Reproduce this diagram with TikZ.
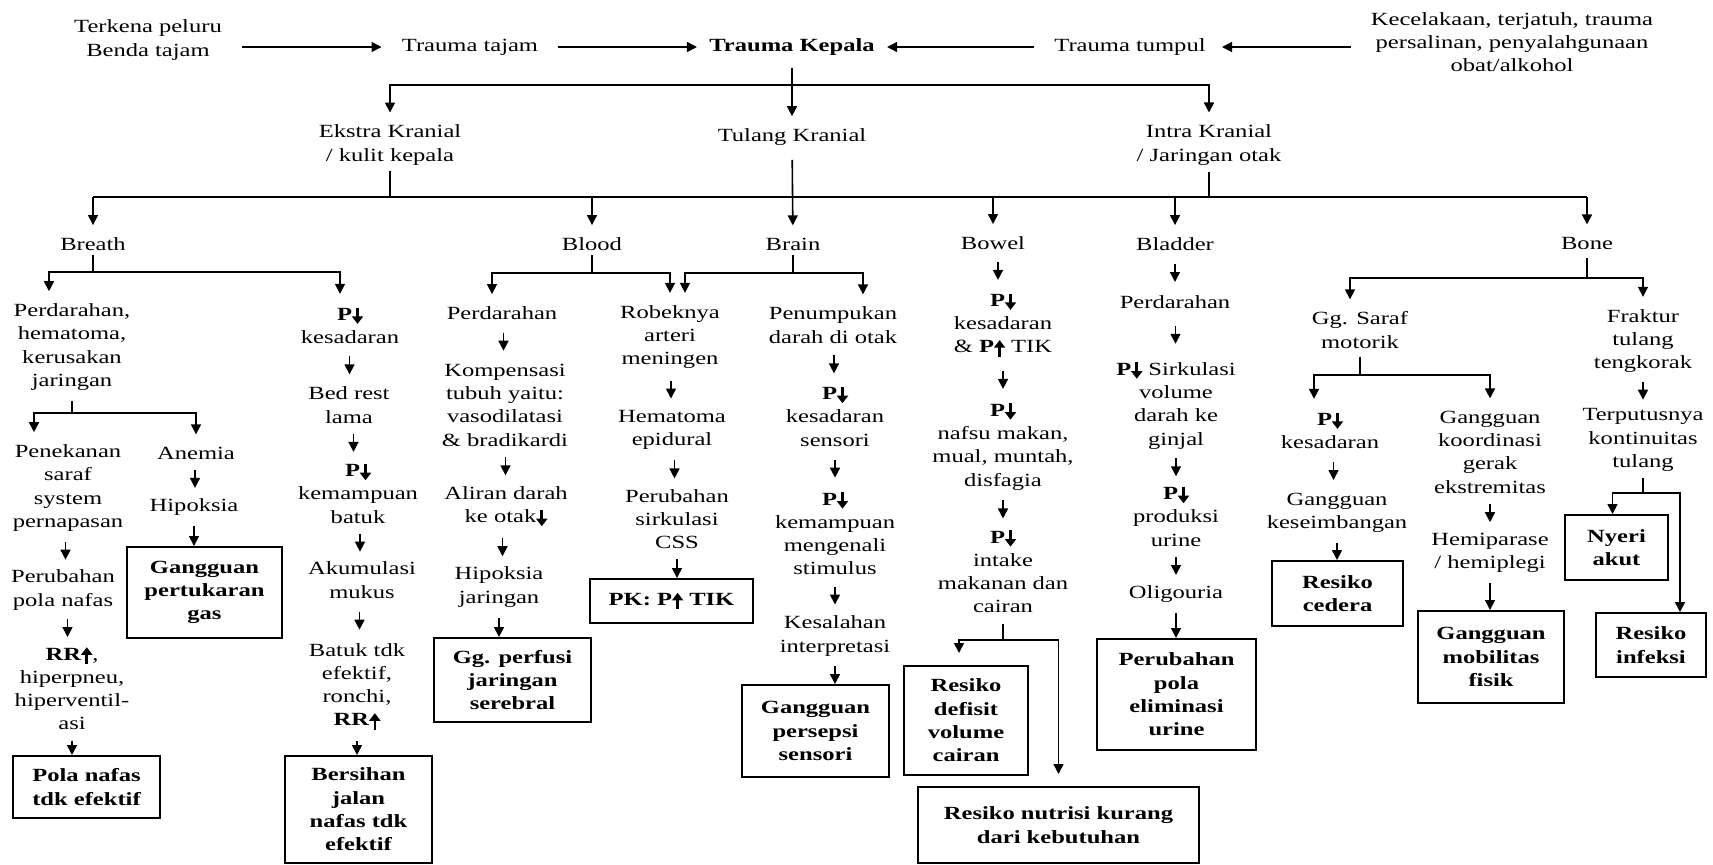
\documentclass[tikz,border=0pt]{standalone}
\usepackage{fontspec}
\setmainfont{Liberation Serif}[FakeStretch=1.32]
\usepackage{tikz}
\usetikzlibrary{arrows.meta,calc}

% thick arrows used inside the labels (P turun / P naik)
\newcommand{\arrdn}{\tikz[baseline=0pt,x=1pt,y=1pt]\draw[line width=1.3pt,-{Triangle[length=3.8pt,width=5.5pt]}] (0,6.4)--(0,-1.8);}
\newcommand{\arrup}{\tikz[baseline=0pt,x=1pt,y=1pt]\draw[line width=1.3pt,-{Triangle[length=3.8pt,width=5.5pt]}] (0,-1.8)--(0,6.4);}
\newcommand{\Pdn}{\textbf{P}\arrdn}
\newcommand{\Pup}{\textbf{P}\arrup}
\newcommand{\txtsize}{\fontsize{9.3}{11.65}\selectfont}

\begin{document}
\begin{tikzpicture}[
  x=0.5pt, y=-0.5pt,
  font=\txtsize,
  txt/.style={align=center, inner sep=0pt},
  box/.style={draw, line width=1pt, align=center, inner sep=0pt, font=\txtsize\bfseries},
  conn/.style={line width=0.8pt},
  arr/.style={conn, -{Triangle[length=5pt,width=5pt]}},
  branch/.style={arr, shorten >=6pt},
  stub/.style={to path={($(\tikztostart.south)!0.5!(\tikztotarget.north)+(0,4.5pt)$) -- ($(\tikztostart.south)!0.5!(\tikztotarget.north)+(0,-4.5pt)$)}}
]
\useasboundingbox (0,0) rectangle (1713,864);

% --- Penyebab -> Trauma Kepala ---
\node[txt] (terkena) at (148,40) {Terkena peluru\\Benda tajam};
\node[txt] (tajam) at (470,47) {Trauma tajam};
\node[txt, font=\txtsize\bfseries] (kepala) at (792,47) {Trauma Kepala};
\node[txt] (tumpul) at (1130,47) {Trauma tumpul};
\node[txt] (sebab) at (1512,42) {Kecelakaan, terjatuh, trauma\\persalinan, penyalahgunaan\\obat/alkohol};

\draw[arr, shorten <=10pt, shorten >=10pt] (terkena.east |- tajam) -- (tajam);
\draw[arr, shorten <=10pt, shorten >=6pt] (tajam) -- (kepala);
\draw[arr, shorten <=10pt, shorten >=6pt] (tumpul) -- (kepala);
\draw[arr, shorten <=10pt, shorten >=8pt] (sebab.west |- tumpul) -- (tumpul);

% --- Ekstra / Tulang / Intra Kranial ---
\node[txt] (ekstra) at (390,145) {Ekstra Kranial\\/ kulit kepala};
\node[txt] (tulang) at (792,137) {Tulang Kranial};
\node[txt] (intra) at (1209,145) {Intra Kranial\\/ Jaringan otak};

\coordinate (jK) at (792,85);
\draw[conn, shorten <=6pt] (kepala) -- (jK);
\draw[branch] (jK) -| (ekstra);
\draw[branch] (jK) -- (tulang);
\draw[branch] (jK) -| (intra);

% --- 6B ---
\node[txt] (breath) at (93,244) {Breath};
\node[txt] (blood) at (592,244) {Blood};
\node[txt] (brain) at (793,244) {Brain};
\node[txt] (bowel) at (993,243) {Bowel};
\node[txt] (bladder) at (1175,244) {Bladder};
\node[txt] (bone) at (1587,243) {Bone};

\coordinate (jT) at (792,197);
\draw[conn, shorten <=3pt] (ekstra) -- (ekstra |- jT);
\draw[conn, shorten <=3pt] (intra) -- (intra |- jT);
\draw[conn] (breath |- jT) -- (bone |- jT);
\foreach \n in {breath,blood,bowel,bladder,bone}
  \draw[branch] (\n |- jT) -- (\n);
\draw[branch, shorten <=7pt] (tulang) -- (brain);

% --- Breath ---
\node[txt] (perdA) at (72,347) {Perdarahan,\\hematoma,\\kerusakan\\jaringan};
\node[txt] (penekanan) at (68,488) {Penekanan\\saraf\\system\\pernapasan};
\node[txt] (anemia) at (196,453) {Anemia};
\node[txt] (hipA) at (194,507) {Hipoksia};
\node[box, minimum width=77.5pt, minimum height=45.5pt] (gas) at (204.5,592.5) {Gangguan\\pertukaran\\gas};
\node[txt] (polaA) at (63,590) {Perubahan\\pola nafas};
\node[txt] (rr) at (72,688) {\textbf{RR}\arrup,\\hiperpneu,\\hiperventil-\\asi};
\node[box, minimum width=73.5pt, minimum height=31pt] (polaBox) at (86.5,787) {Pola nafas\\tdk efektif};
\node[txt] (kesA) at (350,325) {\Pdn\\kesadaran};
\node[txt] (bedrest) at (349,405) {Bed rest\\lama};
\node[txt] (batukA) at (358,493) {\Pdn\\kemampuan\\batuk};
\node[txt] (mukus) at (362,580) {Akumulasi\\mukus};
\node[txt] (batukB) at (357,687) {Batuk tdk\\efektif,\\ronchi,\\\textbf{RR}\arrup};
\node[box, minimum width=73.5pt, minimum height=53.5pt] (bersihan) at (358.5,809.5) {Bersihan\\jalan\\nafas tdk\\efektif};

\coordinate (jBr) at (93,272);
\draw[conn, shorten <=2pt] (breath) -- (jBr);
\draw[branch] (jBr) -| ([xshift=-11.5pt]perdA.north);
\draw[branch] (jBr) -| ([xshift=-5pt]kesA.north);
\coordinate (jPA) at (72,413);
\draw[conn, shorten <=5pt] (perdA) -- (jPA);
\draw[branch] (jPA) -| ([xshift=-17pt]penekanan.north);
\draw[branch] (jPA) -| (anemia);
\foreach \a/\b in {penekanan/polaA, polaA/rr, anemia/hipA, kesA/bedrest, bedrest/batukA, batukA/mukus, mukus/batukB}
  \draw[arr] (\a) to[stub] (\b);
\draw[arr, shorten <=5pt] (rr) -- (rr |- polaBox.north);
\draw[arr, shorten <=5pt] (hipA) -- (hipA |- gas.north);
\draw[arr, shorten <=5pt] (batukB) -- (batukB |- bersihan.north);

% --- Blood ---
\node[txt] (perdB) at (502,313) {Perdarahan};
\node[txt] (kompensasi) at (505,405) {Kompensasi\\tubuh yaitu:\\vasodilatasi\\\& bradikardi};
\node[txt] (aliran) at (506,507) {Aliran darah\\ke otak\arrdn};
\node[txt] (hipB) at (499,587) {Hipoksia\\jaringan};
\node[box, minimum width=78.5pt, minimum height=42pt] (perfusi) at (512.5,680) {Gg. perfusi\\jaringan\\serebral};
\node[txt] (robek) at (670,337) {Robeknya\\arteri\\meningen};
\node[txt] (hematoma) at (672,430) {Hematoma\\epidural};
\node[txt] (css) at (677,519) {Perubahan\\sirkulasi\\CSS};
\node[box, minimum width=81.5pt, minimum height=22pt] (pk) at (671.5,601) {PK: \Pup{} TIK};

\coordinate (jBl) at (592,273);
\draw[conn, shorten <=2pt] (blood) -- (jBl);
\draw[branch] (jBl) -| ([xshift=-5pt]perdB.north);
\draw[branch] (jBl) -| (robek);
\foreach \a/\b in {perdB/kompensasi, kompensasi/aliran, aliran/hipB, robek/hematoma, hematoma/css}
  \draw[arr] (\a) to[stub] (\b);
\draw[arr, shorten <=5pt] (hipB) -- (hipB |- perfusi.north);
\draw[arr, shorten <=5pt] (css) -- (css |- pk.north);

% --- Brain ---
\node[txt] (penumpukan) at (833,325) {Penumpukan\\darah di otak};
\node[txt] (kesB) at (835,416) {\Pdn\\kesadaran\\sensori};
\node[txt] (kenal) at (835,533) {\Pdn\\kemampuan\\mengenali\\stimulus};
\node[txt] (kesalahan) at (835,636) {Kesalahan\\interpretasi};
\node[box, minimum width=73.5pt, minimum height=46pt] (persepsi) at (815.5,731) {Gangguan\\persepsi\\sensori};

\coordinate (jBn) at (793,273);
\draw[conn, shorten <=2pt] (brain) -- (jBn);
\draw[branch] (jBn) -| ([xshift=7.5pt]robek.north);
\draw[branch] (jBn) -| ([xshift=15pt]penumpukan.north);
\foreach \a/\b in {penumpukan/kesB, kesB/kenal, kenal/kesalahan}
  \draw[arr] (\a) to[stub] (\b);
\draw[arr, shorten <=5pt] (kesalahan) -- (kesalahan |- persepsi.north);

% --- Bowel ---
\node[txt] (kesC) at (1003,325) {\Pdn\\kesadaran\\\& \Pup{} TIK};
\node[txt] (nafsu) at (1003,446) {\Pdn\\nafsu makan,\\mual, muntah,\\disfagia};
\node[txt] (intake) at (1003,571) {\Pdn\\intake\\makanan dan\\cairan};
\node[box, minimum width=62pt, minimum height=54.5pt] (defisit) at (966,720.5) {Resiko\\defisit\\volume\\cairan};
\node[box, minimum width=140.5pt, minimum height=38pt] (nutrisi) at (1058.5,825) {Resiko nutrisi kurang\\dari kebutuhan};

\foreach \a/\b in {bowel/kesC, kesC/nafsu, nafsu/intake}
  \draw[arr] (\a) to[stub] (\b);
\coordinate (jIn) at (1003,640);
\draw[conn, shorten <=5pt] (intake) -- (jIn);
\draw[branch] (jIn) -| ([xshift=-3.5pt]defisit.north);
\draw[branch] (jIn) -| (nutrisi);

% --- Bladder ---
\node[txt] (perdC) at (1175,302) {Perdarahan};
\node[txt] (sirkB) at (1176,405) {\Pdn{} Sirkulasi\\volume\\darah ke\\ginjal};
\node[txt] (produksi) at (1176,516) {\Pdn\\produksi\\urine};
\node[txt] (oligouria) at (1176,594) {Oligouria};
\node[box, minimum width=79.5pt, minimum height=55.5pt] (eliminasi) at (1176.5,694.5) {Perubahan\\pola\\eliminasi\\urine};

\foreach \a/\b in {bladder/perdC, perdC/sirkB, sirkB/produksi, produksi/oligouria}
  \draw[arr] (\a) to[stub] (\b);
\draw[arr, shorten <=5pt] (oligouria) -- (oligouria |- eliminasi.north);

% --- Bone ---
\node[txt] (saraf) at (1360,330) {Gg. Saraf\\motorik};
\node[txt] (kesD) at (1330,430) {\Pdn\\kesadaran};
\node[txt] (seimbang) at (1337,513) {Gangguan\\keseimbangan};
\node[box, minimum width=65.5pt, minimum height=32.5pt] (cedera) at (1337.5,593.5) {Resiko\\cedera};
\node[txt] (koord) at (1490,452) {Gangguan\\koordinasi\\gerak\\ekstremitas};
\node[txt] (hemi) at (1490,553) {Hemiparase\\/ hemiplegi};
\node[box, minimum width=73pt, minimum height=46pt] (mobilitas) at (1491,657) {Gangguan\\mobilitas\\fisik};
\node[txt] (fraktur) at (1643,341) {Fraktur\\tulang\\tengkorak};
\node[txt] (putus) at (1643,440) {Terputusnya\\kontinuitas\\tulang};
\node[box, minimum width=51.5pt, minimum height=32.5pt] (nyeri) at (1616.5,547.5) {Nyeri\\akut};
\node[box, minimum width=55pt, minimum height=32pt] (infeksi) at (1651,645) {Resiko\\infeksi};

\coordinate (jBo) at (1587,278);
\draw[conn, shorten <=4pt] (bone) -- (jBo);
\draw[branch] (jBo) -| ([xshift=-5pt]saraf.north);
\draw[branch] (jBo) -| (fraktur);
\coordinate (jSa) at (1360,375);
\draw[conn, shorten <=4pt] (saraf) -- (jSa);
\draw[branch] (jSa) -| ([xshift=-8pt]kesD.north);
\draw[branch] (jSa) -| (koord);
\foreach \a/\b in {kesD/seimbang, koord/hemi, fraktur/putus}
  \draw[arr] (\a) to[stub] (\b);
\draw[arr, shorten <=5pt] (seimbang) -- (seimbang |- cedera.north);
\draw[arr, shorten <=5pt] (hemi) -- (hemi |- mobilitas.north);
\coordinate (jPu) at (1643,493);
\draw[conn, shorten <=3pt] (putus) -- (jPu);
\draw[arr] (jPu) -| ([xshift=-2pt]nyeri.north);
\draw[arr] (jPu) -| ([xshift=14.5pt]infeksi.north);

\end{tikzpicture}
\end{document}
